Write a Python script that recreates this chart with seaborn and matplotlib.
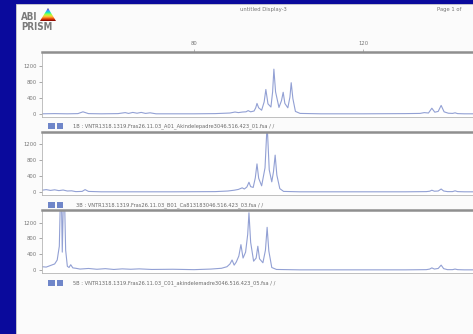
import numpy as np
import pandas as pd
import matplotlib
matplotlib.use("Agg")
import matplotlib.pyplot as plt
import seaborn as sns
from matplotlib.patches import Rectangle, Polygon

# ---------------- data (size in bp, signal in RFU) ----------------
x_ruler_ticks = [80, 120]
y_ticks = [0, 400, 800, 1200]

x1 = [44, 47, 50, 52.5, 53.7, 55, 58, 62, 63.7, 64.5, 65.5, 66.5, 67.5, 68.5, 69.6, 71, 75, 80, 85, 88.5,
      89.7, 90.5, 91.5, 92.3, 92.8, 93.4, 94.2, 94.6, 94.9, 95.3, 96.0, 96.6, 97.0, 97.5, 98.2, 98.6, 98.9, 99.3,
      100.1, 100.7, 101.1, 101.5, 102.2, 102.7, 103.0, 103.4, 104.0, 105.1, 110, 120, 130, 133.5, 134.5, 135.5,
      136.3, 137.0, 137.8, 138.5, 139.2, 140.2, 141.2, 141.8, 142.4, 144, 148]
y1 = [0, 5, 0, 5, 50, 5, 0, 5, 30, 10, 35, 15, 35, 10, 25, 0, 0, 0, 5, 20,
      45, 30, 45, 50, 80, 50, 70, 150, 260, 150, 90, 300, 610, 250, 170, 550, 1120, 550,
      160, 330, 540, 260, 150, 420, 780, 380, 60, 10, 0, 0, 5, 10, 30, 20,
      140, 40, 60, 210, 50, 15, 10, 25, 5, 0, 0]

x2 = [44, 45, 46, 47, 48, 49, 50, 51, 52, 53.5, 54.2, 55, 58, 65, 75, 85, 88, 89.5, 90.5, 91.4,
      91.9, 92.5, 93.0, 93.4, 94.0, 94.5, 94.9, 95.3, 96.0, 96.8, 97.3, 97.8, 98.4, 98.8, 99.2, 99.6,
      100.3, 101.2, 105, 120, 130, 135, 135.8, 136.3, 136.9, 137.8, 138.5, 139.1, 140, 141.2,
      141.8, 142.4, 144, 148]
y2 = [40, 55, 35, 50, 30, 45, 20, 25, 5, 10, 55, 10, 0, 0, 0, 5, 20, 40, 60, 100,
      70, 120, 240, 130, 110, 350, 700, 340, 150, 600, 1700, 550, 250, 500, 920, 420,
      80, 10, 0, 0, 0, 5, 15, 40, 15, 20, 70, 20, 5, 5,
      25, 5, 0, 0]

x3 = [44, 45, 46, 47, 47.6, 48.1, 48.5, 48.8, 49.2, 49.6, 50.0, 50.4, 50.8, 51.3, 52, 53, 55, 57, 59, 61,
      63, 65, 67, 70, 75, 80, 84, 86.5, 87.8, 88.5, 89.0, 89.5, 90.0, 90.6, 91.1, 91.6, 92.2, 92.7, 93.0, 93.4,
      94.1, 94.7, 95.1, 95.5, 96.3, 96.9, 97.3, 97.7, 98.4, 99.5, 105, 120, 130, 135, 135.8, 136.3, 136.9,
      137.8, 138.5, 139.1, 140, 141.2, 141.8, 142.4, 144, 148]
y3 = [80, 70, 110, 150, 250, 600, 2500, 450, 2500, 500, 90, 60, 130, 50, 40, 20, 35, 15, 30, 10,
      25, 15, 25, 10, 15, 5, 20, 40, 80, 150, 250, 120, 200, 350, 640, 300, 450, 900, 1450, 700,
      220, 300, 600, 280, 180, 500, 1080, 480, 60, 10, 0, 0, 0, 5, 20, 50, 20,
      35, 120, 30, 5, 5, 20, 5, 0, 0]

sample_labels = [
    "1B : VNTR1318.1319.Fras26.11.03_A01_Akindelepadre3046.516.423_01.fsa / /",
    "3B : VNTR1318.1319.Fras26.11.03_B01_Ca813183046.516.423_03.fsa / /",
    "5B : VNTR1318.1319.Fras26.11.03_C01_akindelemadre3046.516.423_05.fsa / /",
]
header_title = "untitled Display-3"
header_page = "Page 1 of"

# ---------------- layout ----------------
W, H = 473, 334
BLUE = "#0a0a9c"
TRACE = "#92a0d4"
GRAY_TXT = "#777777"

sns.set_theme(style="white")
plt.rcParams["font.family"] = ["DejaVu Sans"]

fig = plt.figure(figsize=(W / 100, H / 100), dpi=100, facecolor=BLUE)


def box(x0, y0, x1_, y1_):
    return [x0 / W, 1 - y1_ / H, (x1_ - x0) / W, (y1_ - y0) / H]


def fx(x):
    return x / W


def fy(y):
    return 1 - y / H


# white page (behind everything)
fig.patches.append(Rectangle((fx(16), fy(340)), (W - 16 + 10) / W, (340 - 4) / H,
                             transform=fig.transFigure, facecolor="#fbfbfb",
                             edgecolor="#cfcfcf", linewidth=0.6, zorder=-10))

XLIM = (44.0, 147.7)

# header texts
fig.text(fx(263), fy(10), header_title, fontsize=3.8, color=GRAY_TXT, ha="center", va="center")
fig.text(fx(437), fy(10), header_page, fontsize=3.8, color=GRAY_TXT, ha="left", va="center")

# logo
fig.text(fx(21), fy(17), "ABI", fontsize=7, color="#7a7a7a", ha="left", va="center",
         fontweight="bold", fontstretch="condensed")
fig.text(fx(21), fy(27), "PRISM", fontsize=7, color="#7a7a7a", ha="left", va="center",
         fontweight="bold", fontstretch="condensed")
lax = fig.add_axes(box(40, 8, 56, 21))
lax.set_axis_off()
lax.set_xlim(0, 1)
lax.set_ylim(0, 1)
grad = np.linspace(0, 1, 64).reshape(-1, 1)
im = lax.imshow(grad, extent=(0, 1, 0, 1), cmap="turbo", aspect="auto", origin="upper")
tri = Polygon([[0.0, 0.0], [1.0, 0.0], [0.5, 1.0]], closed=True, transform=lax.transData,
              facecolor="none", edgecolor="none")
lax.add_patch(tri)
im.set_clip_path(tri)

# (top px, bottom px), ylim, data, label row y, label x, label
panels = [
    ((52, 117), (-80, 1550), x1, y1, 126, 73, sample_labels[0]),
    ((132, 195), (-80, 1500), x2, y2, 205, 76, sample_labels[1]),
    ((210, 273), (-80, 1520), x3, y3, 283, 73, sample_labels[2]),
]

for i, ((top, bot), ylim, xs, ys, label_y, label_x, label) in enumerate(panels):
    ax = fig.add_axes(box(42, top, 480, bot))
    ax.set_facecolor("white")
    df = pd.DataFrame({"size": xs, "rfu": ys})
    sns.lineplot(data=df, x="size", y="rfu", ax=ax, color=TRACE, linewidth=0.8,
                 estimator=None, sort=False)
    ax.set_xlim(*XLIM)
    ax.set_ylim(*ylim)
    ax.set_xlabel("")
    ax.set_ylabel("")
    if i == 0:
        ax.xaxis.tick_top()
        ax.set_xticks(x_ruler_ticks)
        ax.set_xticklabels([str(v) for v in x_ruler_ticks])
        ax.tick_params(axis="x", top=True, bottom=False, length=2, width=0.5,
                       color="#999999", labelsize=3.8, labelcolor=GRAY_TXT, pad=2.5)
    else:
        ax.set_xticks([])
    ax.set_yticks(y_ticks)
    ax.set_yticklabels([str(v) for v in y_ticks])
    ax.tick_params(axis="y", left=True, length=2.5, width=0.5, color="#888888",
                   labelsize=3.8, labelcolor=GRAY_TXT, pad=1.5)
    for s in ["left", "right", "bottom"]:
        ax.spines[s].set_color("#b5b5b5")
        ax.spines[s].set_linewidth(0.6)
    ax.spines["top"].set_color("#8f8f8f")
    ax.spines["top"].set_linewidth(1.8)

    # two blue squares + sample label
    for sx in (48, 56.5):
        fig.patches.append(Rectangle((fx(sx), fy(label_y + 3)), 6.5 / W, 6 / H,
                                     transform=fig.transFigure, facecolor="#6f86c9",
                                     edgecolor="none", zorder=3))
    fig.text(fx(label_x), fy(label_y), label, fontsize=3.7, color="#6a6a6a",
             ha="left", va="center")

fig.savefig("out.png", dpi=100, facecolor=BLUE)
